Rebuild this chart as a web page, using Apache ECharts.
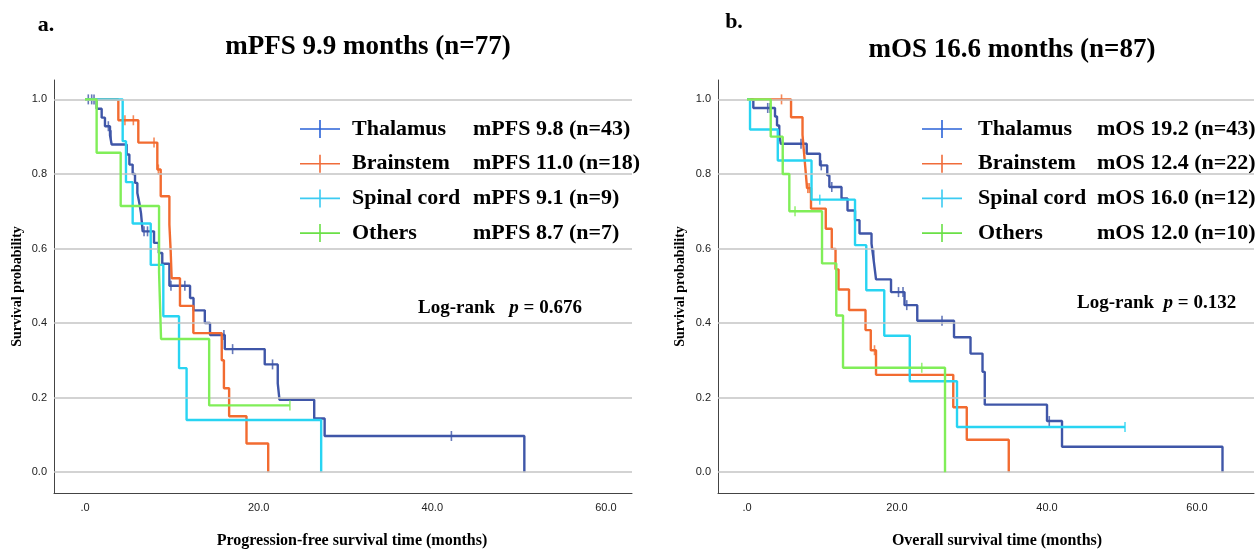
<!DOCTYPE html>
<html><head><meta charset="utf-8">
<script src="https://cdn.jsdelivr.net/npm/echarts@6/dist/echarts.min.js"></script>
<style>html,body{margin:0;padding:0;background:#fff}#c{width:1255px;height:549px}</style>
</head><body><div id="c"></div>
<script>
// ---------- DATA ----------
const groups = ['Thalamus', 'Brainstem', 'Spinal cord', 'Others'];
const pfsLegendText = ['mPFS 9.8 (n=43)', 'mPFS 11.0 (n=18)', 'mPFS 9.1 (n=9)', 'mPFS 8.7 (n=7)'];
const osLegendText = ['mOS 19.2 (n=43)', 'mOS 12.4 (n=22)', 'mOS 16.0 (n=12)', 'mOS 12.0 (n=10)'];
const xTicks = [0, 20, 40, 60];
const yTicks = [0, 0.2, 0.4, 0.6, 0.8, 1.0];

// Progression-free survival (months, survival after each event)
const pfsThalamusT = [0, 1.34, 1.92, 2.30, 2.88, 3.07, 4.80, 5.11, 5.49, 5.76, 6.03, 6.26, 6.45, 6.64, 7.95, 8.50, 8.90, 9.72, 12.1, 12.5, 13.8, 14.4, 16.1, 20.7, 22.2, 22.4, 26.4, 27.6, 50.6];
const pfsThalamusS = [1, 0.975, 0.951, 0.928, 0.904, 0.879, 0.852, 0.825, 0.800, 0.776, 0.749, 0.722, 0.695, 0.646, 0.615, 0.588, 0.559, 0.500, 0.467, 0.434, 0.400, 0.368, 0.330, 0.289, 0.238, 0.194, 0.144, 0.097, 0];
const pfsThalamusCens = [0.38, 0.77, 1.04, 2.69, 3.0, 6.8, 7.2, 9.9, 11.5, 16.0, 17.0, 21.6, 42.2];

const pfsBrainstemT = [0, 3.84, 6.14, 8.33, 8.72, 9.72, 9.87, 9.98, 10.94, 12.48, 15.75, 16.0, 16.6, 18.6, 21.1];
const pfsBrainstemS = [1, 0.944, 0.884, 0.812, 0.740, 0.664, 0.592, 0.520, 0.446, 0.373, 0.300, 0.225, 0.150, 0.077, 0];
const pfsBrainstemCens = [4.6, 5.57, 7.95, 8.45];

const pfsSpinalT = [0, 4.34, 4.72, 5.49, 7.57, 9.02, 10.83, 11.7, 27.2];
const pfsSpinalS = [1, 0.888, 0.778, 0.667, 0.556, 0.418, 0.279, 0.140, 0];
const pfsSpinalCens = [];

const pfsOthersT = [0, 1.34, 4.11, 8.53, 8.76, 14.3];
const pfsOthersS = [1, 0.857, 0.714, 0.536, 0.357, 0.179];
const pfsOthersCens = [23.6];

// Overall survival
const osThalamusT = [0, 0.84, 3.73, 4.0, 4.3, 4.5, 7.96, 9.73, 10.7, 10.98, 12.6, 13.4, 14.4, 15.0, 16.6, 16.8, 17.0, 17.2, 19.2, 21.0, 22.7, 27.6, 29.8, 31.4, 31.7, 40.0, 42.0, 63.4];
const osThalamusS = [1, 0.977, 0.954, 0.930, 0.906, 0.881, 0.854, 0.823, 0.796, 0.765, 0.734, 0.702, 0.676, 0.640, 0.613, 0.582, 0.550, 0.517, 0.483, 0.448, 0.406, 0.362, 0.318, 0.269, 0.181, 0.137, 0.068, 0];
const osThalamusCens = [2.76, 3.07, 7.2, 9.9, 11.3, 16.9, 20.2, 20.8, 21.3, 26.0, 40.3];

const osBrainstemT = [0, 5.87, 7.4, 7.6, 7.8, 8.0, 8.53, 10.5, 11.3, 11.8, 12.2, 13.6, 15.8, 16.5, 17.2, 27.5, 29.3, 34.9];
const osBrainstemS = [1, 0.952, 0.905, 0.857, 0.810, 0.762, 0.707, 0.653, 0.599, 0.544, 0.490, 0.435, 0.381, 0.327, 0.261, 0.174, 0.087, 0];
const osBrainstemCens = [4.6, 8.1, 8.3, 17.0];

const osSpinalT = [0, 0.4, 4.1, 8.6, 14.4, 15.9, 18.3, 21.7, 28.0];
const osSpinalS = [1, 0.919, 0.836, 0.731, 0.609, 0.488, 0.366, 0.244, 0.121];
const osSpinalCens = [4.8, 9.7, 50.4];

const osOthersT = [0, 3.16, 4.76, 5.64, 10.0, 11.9, 12.8, 26.4];
const osOthersS = [1, 0.9, 0.8, 0.7, 0.56, 0.42, 0.28, 0];
const osOthersCens = [6.4, 23.3];

// ---------- STYLE ----------
const serif = '"Liberation Serif","Times New Roman",serif';
const sans = '"Liberation Sans",Arial,sans-serif';
const lineColors = ['#3f56a8', '#f26b30', '#28d4f2', '#80ee58'];
const legendColors = ['#2b63d8', '#f06c3a', '#3ccbf2', '#6ae046'];

const panels = [
  { T: [pfsThalamusT, pfsBrainstemT, pfsSpinalT, pfsOthersT],
    S: [pfsThalamusS, pfsBrainstemS, pfsSpinalS, pfsOthersS],
    C: [pfsThalamusCens, pfsBrainstemCens, pfsSpinalCens, pfsOthersCens] },
  { T: [osThalamusT, osBrainstemT, osSpinalT, osOthersT],
    S: [osThalamusS, osBrainstemS, osSpinalS, osOthersS],
    C: [osThalamusCens, osBrainstemCens, osSpinalCens, osOthersCens] }
];

function survAt(T, S, t) {
  let v = S[0];
  for (let i = 0; i < T.length; i++) { if (T[i] <= t) v = S[i]; }
  return v;
}

const series = [];
panels.forEach((p, gi) => {
  // gridlines
  series.push({
    type: 'line', xAxisIndex: gi, yAxisIndex: gi, data: [], z: 1, silent: true,
    markLine: { silent: true, symbol: 'none', animation: false, label: { show: false },
      lineStyle: { color: '#c4c4c4', width: 1.5, type: 'solid' },
      data: yTicks.map(v => ({ yAxis: v })) }
  });
  groups.forEach((g, k) => {
    const T = p.T[k], S = p.S[k], C = p.C[k];
    const data = T.map((t, i) => [t, S[i]]);
    const lastC = C.length ? Math.max(...C) : -Infinity;
    if (lastC > T[T.length - 1]) data.push([lastC, S[S.length - 1]]);
    series.push({
      type: 'line', name: g, xAxisIndex: gi, yAxisIndex: gi, step: 'end', data,
      symbol: 'none', showSymbol: false, silent: true, z: 2 + k,
      lineStyle: { color: lineColors[k], width: 2.4 }, itemStyle: { color: lineColors[k] }
    });
    series.push({
      type: 'scatter', name: g, xAxisIndex: gi, yAxisIndex: gi, silent: true, z: 2 + k,
      symbol: 'rect', symbolSize: [1.6, 10],
      data: C.map(t => [t, survAt(T, S, t)]),
      itemStyle: { color: lineColors[k] }
    });
  });
});

function makeLegend(left, padLeft, textPad, nameWidth, texts) {
  return {
    orient: 'vertical', left, top: 110, selectedMode: false,
    padding: [8, 14, 8, padLeft], backgroundColor: '#ffffff',
    itemWidth: 40, itemHeight: 18, itemGap: 12.7,
    icon: 'path://M0,8.2H40V9.8H0Z M19.2,0H20.8V18H19.2Z',
    data: groups.map((g, i) => ({ name: g, itemStyle: { color: legendColors[i] } })),
    formatter: name => '{n|' + name + '}{m|' + texts[groups.indexOf(name)] + '}',
    textStyle: {
      padding: [0, 0, 0, textPad],
      rich: {
        n: { fontFamily: serif, fontWeight: 'bold', fontSize: 22, color: '#000', width: nameWidth, lineHeight: 20 },
        m: { fontFamily: serif, fontWeight: 'bold', fontSize: 22, color: '#000', lineHeight: 20 }
      }
    }
  };
}

function xAxisCfg(gi, min, max) {
  return {
    type: 'value', gridIndex: gi, min, max,
    axisLine: { show: true, onZero: false, lineStyle: { color: '#444', width: 1 } },
    axisTick: { show: false }, splitLine: { show: false },
    axisLabel: { customValues: xTicks, formatter: v => v === 0 ? '.0' : v.toFixed(1),
      color: '#222', fontFamily: sans, fontSize: 11, margin: 9 }
  };
}
function yAxisCfg(gi, gap) {
  return {
    type: 'value', gridIndex: gi, min: -0.056, max: 1.052,
    axisLine: { show: true, onZero: false, lineStyle: { color: '#444', width: 1 } },
    axisTick: { show: false }, splitLine: { show: false },
    axisLabel: { customValues: yTicks, formatter: v => v.toFixed(1),
      color: '#222', fontFamily: sans, fontSize: 11, margin: 7 },
    name: 'Survival probability', nameLocation: 'middle', nameGap: gap,
    nameTextStyle: { fontFamily: serif, fontWeight: 'bold', fontSize: 14, color: '#000' }
  };
}

function txt(x, y, text, size, align) {
  return { type: 'text', x, y, silent: true,
    style: { text, fill: '#000', font: 'bold ' + size + 'px ' + serif, align: align || 'center', verticalAlign: 'middle' } };
}
function logrank(x, y, gap, pval) {
  return { type: 'text', x, y, silent: true,
    style: { text: '{a|Log-rank' + gap + '}{b|p}{a| = ' + pval + '}', align: 'left', verticalAlign: 'middle',
      rich: { a: { font: 'bold 19px ' + serif, fill: '#000' }, b: { font: 'italic bold 19px ' + serif, fill: '#000' } } } };
}

const option = {
  animation: false,
  backgroundColor: '#ffffff',
  grid: [
    { left: 54, top: 80, width: 578, height: 413 },
    { left: 718, top: 80, width: 536, height: 413 }
  ],
  xAxis: [xAxisCfg(0, -3.57, 63.0), xAxisCfg(1, -3.87, 67.6)],
  yAxis: [yAxisCfg(0, 30), yAxisCfg(1, 31)],
  legend: [
    makeLegend(270, 30, 7, 121, pfsLegendText),
    makeLegend(910, 12, 11, 119, osLegendText)
  ],
  graphic: [
    txt(46, 25, 'a.', 22),
    txt(734, 22, 'b.', 22),
    txt(368, 47, 'mPFS 9.9 months (n=77)', 27),
    txt(1012, 50, 'mOS 16.6 months (n=87)', 27),
    txt(352, 541, 'Progression-free survival time (months)', 16),
    txt(997, 541, 'Overall survival time (months)', 16),
    logrank(418, 308, '   ', '0.676'),
    logrank(1077, 303, '  ', '0.132')
  ],
  series
};
const chart = echarts.init(document.getElementById('c'));
chart.setOption(option);
</script>
</body></html>
